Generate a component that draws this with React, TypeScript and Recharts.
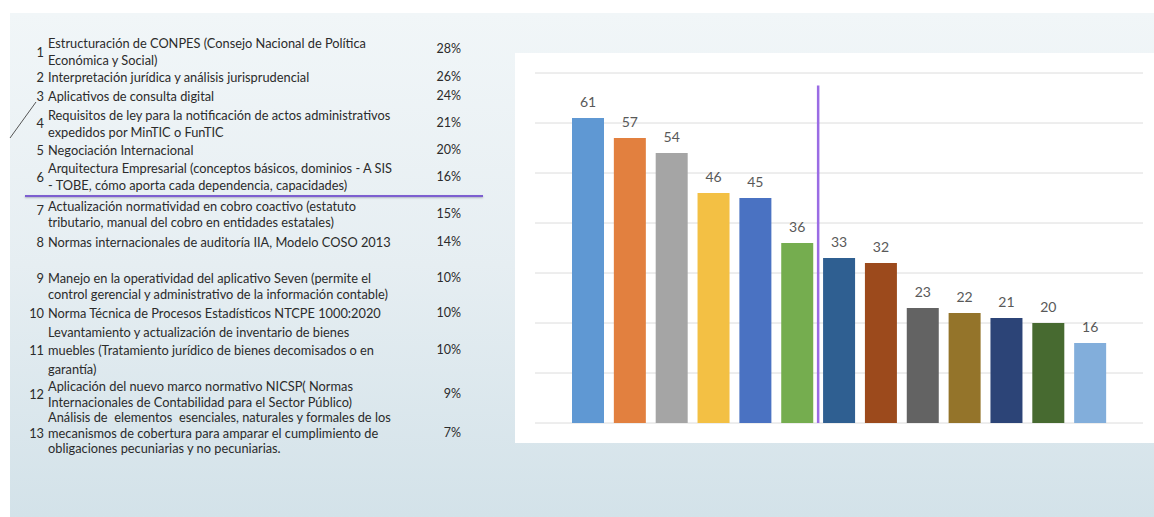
import React from "react";
import {
  Bar,
  BarChart,
  CartesianGrid,
  Cell,
  LabelList,
  ReferenceLine,
  XAxis,
  YAxis,
} from "recharts";

// topics ranked, as shown in the slide table
const topicNumbers = ["1", "2", "3", "4", "5", "6", "7", "8", "9", "10", "11", "12", "13"];

const topicLines = [
  ["Estructuración de CONPES (Consejo Nacional de Política", "Económica y Social)"],
  ["Interpretación jurídica y análisis jurisprudencial"],
  ["Aplicativos de consulta digital"],
  ["Requisitos de ley para la notificación de actos administrativos", "expedidos por MinTIC o FunTIC"],
  ["Negociación Internacional"],
  ["Arquitectura Empresarial (conceptos básicos, dominios - A SIS", "- TOBE, cómo aporta cada dependencia, capacidades)"],
  ["Actualización normatividad en cobro coactivo (estatuto", "tributario, manual del cobro en entidades estatales)"],
  ["Normas internacionales de auditoría IIA, Modelo COSO 2013"],
  ["Manejo en la operatividad del aplicativo Seven (permite el", "control gerencial y administrativo de la información contable)"],
  ["Norma Técnica de Procesos Estadísticos NTCPE 1000:2020"],
  ["Levantamiento y actualización de inventario de bienes", "muebles (Tratamiento jurídico de bienes decomisados o en", "garantía)"],
  ["Aplicación del nuevo marco normativo NICSP( Normas", "Internacionales de Contabilidad para el Sector Público)"],
  ["Análisis de  elementos  esenciales, naturales y formales de los", "mecanismos de cobertura para amparar el cumplimiento de", "obligaciones pecuniarias y no pecuniarias."],
];

const topicShares = ["28%", "26%", "24%", "21%", "20%", "16%", "15%", "14%", "10%", "10%", "10%", "9%", "7%"];

// bar chart: votes per topic
const categories = topicNumbers;
const votes = [61, 57, 54, 46, 45, 36, 33, 32, 23, 22, 21, 20, 16];
const barColors = [
  "#5f98d3", "#e2803f", "#a5a5a5", "#f3c044", "#4a72c2", "#75ad4f", "#2f5f91",
  "#9c4a1c", "#636363", "#94742a", "#2c4477", "#476a30", "#82aedb",
];
const yTicks = [0, 10, 20, 30, 40, 50, 60, 70];

const chartData = categories.map((c, i) => ({ name: c, value: votes[i] }));

// layout of the text table (line centres, px)
const lineCenters = [
  [43, 60], [77], [95.5], [115, 131.5], [150], [168, 185], [205.5, 221.5],
  [241.5], [277.5, 294], [313], [332, 350, 369], [386, 402], [417, 433, 448],
];
const numberCenters = [51.5, 77, 95.5, 123, 150, 177, 210, 241.5, 277.5, 313, 350, 394, 433];
const shareCenters = [49, 77, 95.5, 123, 150, 177, 214, 241.5, 277.5, 313, 350, 394, 433];

const font = "Lato, 'Open Sans', sans-serif";
const LH = 16;

const TopicTable = () => (
  <div style={{ position: "absolute", left: 0, top: 0, width: 500, height: 517 }}>
    {topicLines.map((lines, i) => (
      <React.Fragment key={i}>
        <div
          style={{
            position: "absolute",
            right: 500 - 44,
            top: numberCenters[i] - LH / 2,
            lineHeight: `${LH}px`,
            fontSize: 12.8,
          }}
        >
          {topicNumbers[i]}
        </div>
        {lines.map((t, j) => (
          <div
            key={j}
            style={{
              position: "absolute",
              left: 48,
              top: lineCenters[i][j] - LH / 2,
              lineHeight: `${LH}px`,
              fontSize: 12.8,
              whiteSpace: "pre",
            }}
          >
            {t}
          </div>
        ))}
        <div
          style={{
            position: "absolute",
            right: 500 - 461,
            top: shareCenters[i] - LH / 2,
            lineHeight: `${LH}px`,
            fontSize: 12.5,
          }}
        >
          {topicShares[i]}
        </div>
      </React.Fragment>
    ))}
    <div
      style={{
        position: "absolute",
        left: 25,
        top: 195,
        width: 458,
        height: 2,
        background: "#7d5fd0",
        boxShadow: "0 1px 2px rgba(60,60,90,0.35)",
      }}
    />
    <svg style={{ position: "absolute", left: 0, top: 0 }} width={60} height={160}>
      <line x1={10} y1={138} x2={36} y2={102} stroke="#555" strokeWidth={1} />
    </svg>
  </div>
);

const Divider = (props: any) => (
  <line
    x1={props.x1 + 21}
    x2={props.x2 + 21}
    y1={props.y1}
    y2={props.y2}
    stroke="#9a6ce4"
    strokeWidth={2.5}
  />
);

export default function App() {
  return (
    <div
      style={{
        position: "absolute",
        left: 0,
        top: 0,
        width: 1154,
        height: 517,
        background: "#ffffff",
        overflow: "hidden",
        fontFamily: font,
        color: "#2b2b2b",
      }}
    >
      <div
        style={{
          position: "absolute",
          left: 10,
          top: 13,
          right: 0,
          bottom: 0,
          background: "linear-gradient(to bottom, #f1f6f8 0%, #e6eef2 50%, #d3e2e9 100%)",
        }}
      />
      <TopicTable />
      <div
        style={{
          position: "absolute",
          left: 515,
          top: 53,
          width: 639,
          height: 390,
          background: "#ffffff",
        }}
      >
        <BarChart
          width={639}
          height={390}
          data={chartData}
          margin={{ top: 20, right: 11, bottom: 20, left: 20 }}
        >
          <CartesianGrid vertical={false} stroke="#dcdcdc" />
          <XAxis dataKey="name" hide padding={{ left: 32, right: 32 }} />
          <YAxis hide domain={[0, 70]} ticks={yTicks} />
          <Bar dataKey="value" barSize={32} isAnimationActive={false}>
            {chartData.map((d, i) => (
              <Cell key={d.name} fill={barColors[i]} />
            ))}
            <LabelList
              dataKey="value"
              position="top"
              offset={11}
              fill="#595959"
              fontSize={14}
              fontFamily={font}
            />
          </Bar>
          <ReferenceLine
            segment={[
              { x: "6", y: 0 },
              { x: "6", y: 67.5 },
            ]}
            shape={Divider}
          />
        </BarChart>
      </div>
    </div>
  );
}
